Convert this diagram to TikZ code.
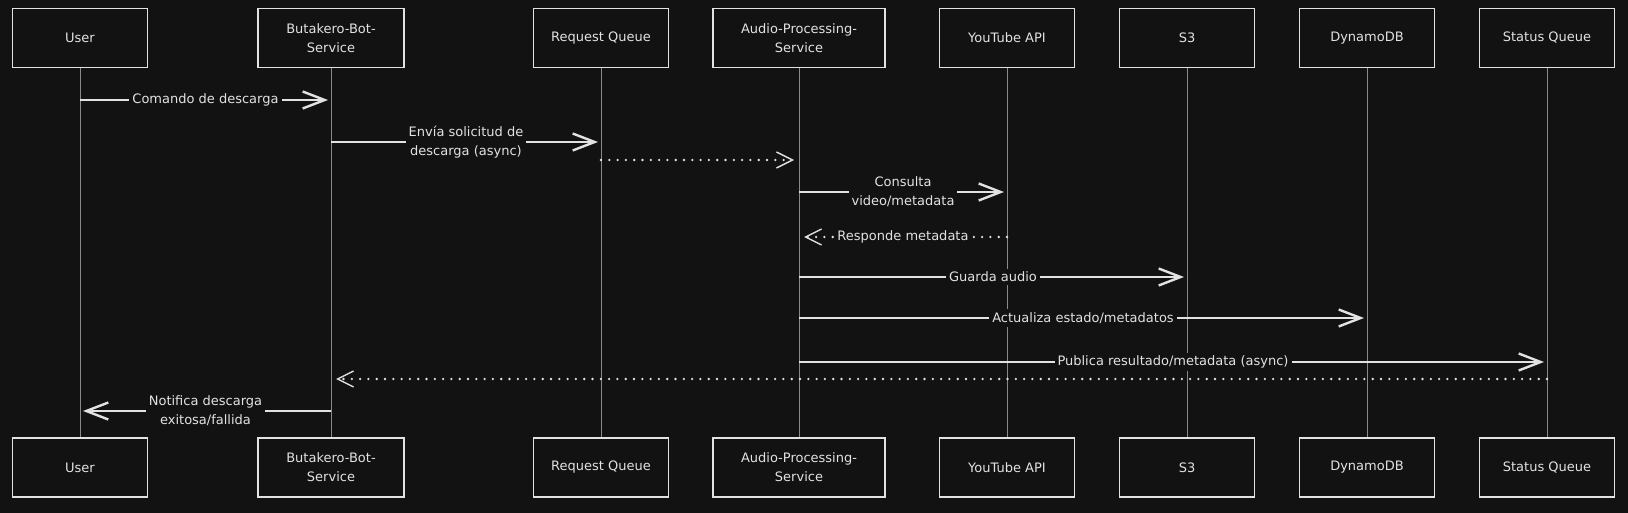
\documentclass[tikz,border=0pt]{standalone}
\usepackage{fontspec}
\setmainfont{DejaVu Sans}
\usetikzlibrary{arrows.meta,positioning}
\definecolor{bgcol}{HTML}{121212}
\definecolor{inkcol}{HTML}{E2E2E2}
\definecolor{lifecol}{HTML}{8A8A8A}

\begin{document}
\begin{tikzpicture}[x=1pt,y=-1pt,
    actor/.style={draw=inkcol, line width=1.6pt, fill=bgcol, minimum height=59pt,
      align=center, text=inkcol, font=\fontsize{13}{19}\selectfont},
    lifeline/.style={draw=lifecol, line width=0.9pt},
    msg/.style={draw=inkcol, line width=2.4pt, shorten >=3pt,
      -{Straight Barb[length=22pt,width=17pt]}},
    reply/.style={draw=inkcol, line width=2.6pt, dash pattern=on 0pt off 8.3pt,
      line cap=round, shorten >=5pt, -{Straight Barb[length=16pt,width=16pt,line width=1.4pt]}},
    lbl/.style={fill=bgcol, text=inkcol, inner sep=3pt, align=center,
      font=\fontsize{13}{19}\selectfont}]
  % background and frame
  \fill[bgcol] (0,0) rectangle (1628,513);
  \useasboundingbox (0,0) rectangle (1628,513);

  % the participants, top and bottom, with their lifelines
  \foreach \name/\x/\w/\txt in {user/80/135/User, butakero/331/146/{Butakero-Bot-\\Service},
      request/601/135/Request Queue, audio/799/172/{Audio-Processing-\\Service},
      youtube/1007/135/YouTube API, storage/1187/135/S3,
      dynamo/1367/135/DynamoDB, status/1547/135/Status Queue} {
    \node[actor, minimum width=\w pt] (\name-top) at (\x,38) {\txt};
    \node[actor, minimum width=\w pt] (\name-end) at (\x,467.5) {\txt};
    \draw[lifeline] (\name-top.south) -- (\name-end.north);
  }

  % the messages
  \foreach \from/\to/\y/\txt in {user/butakero/100/Comando de descarga,
      butakero/request/142/{Envía solicitud de\\descarga (async)},
      audio/youtube/192/{Consulta\\video/metadata},
      audio/storage/277/Guarda audio,
      audio/dynamo/318/{Actualiza estado/metadatos},
      audio/status/362/{Publica resultado/metadata (async)},
      butakero/user/411/{Notifica descarga\\exitosa/fallida}} {
    \coordinate (m) at (0,\y);
    \draw[msg] (\from-top |- m) -- (\to-top |- m) node[lbl, midway] {\txt};
  }

  % the dotted replies
  \coordinate (r1) at (0,160);
  \coordinate (r2) at (0,237);
  \coordinate (r3) at (0,379);
  \draw[reply] (request-top |- r1) -- (audio-top |- r1);
  \draw[reply] (youtube-top |- r2) -- (audio-top |- r2) node[lbl, midway] {Responde metadata};
  \draw[reply] (status-top |- r3) -- (butakero-top |- r3);
\end{tikzpicture}
\end{document}
